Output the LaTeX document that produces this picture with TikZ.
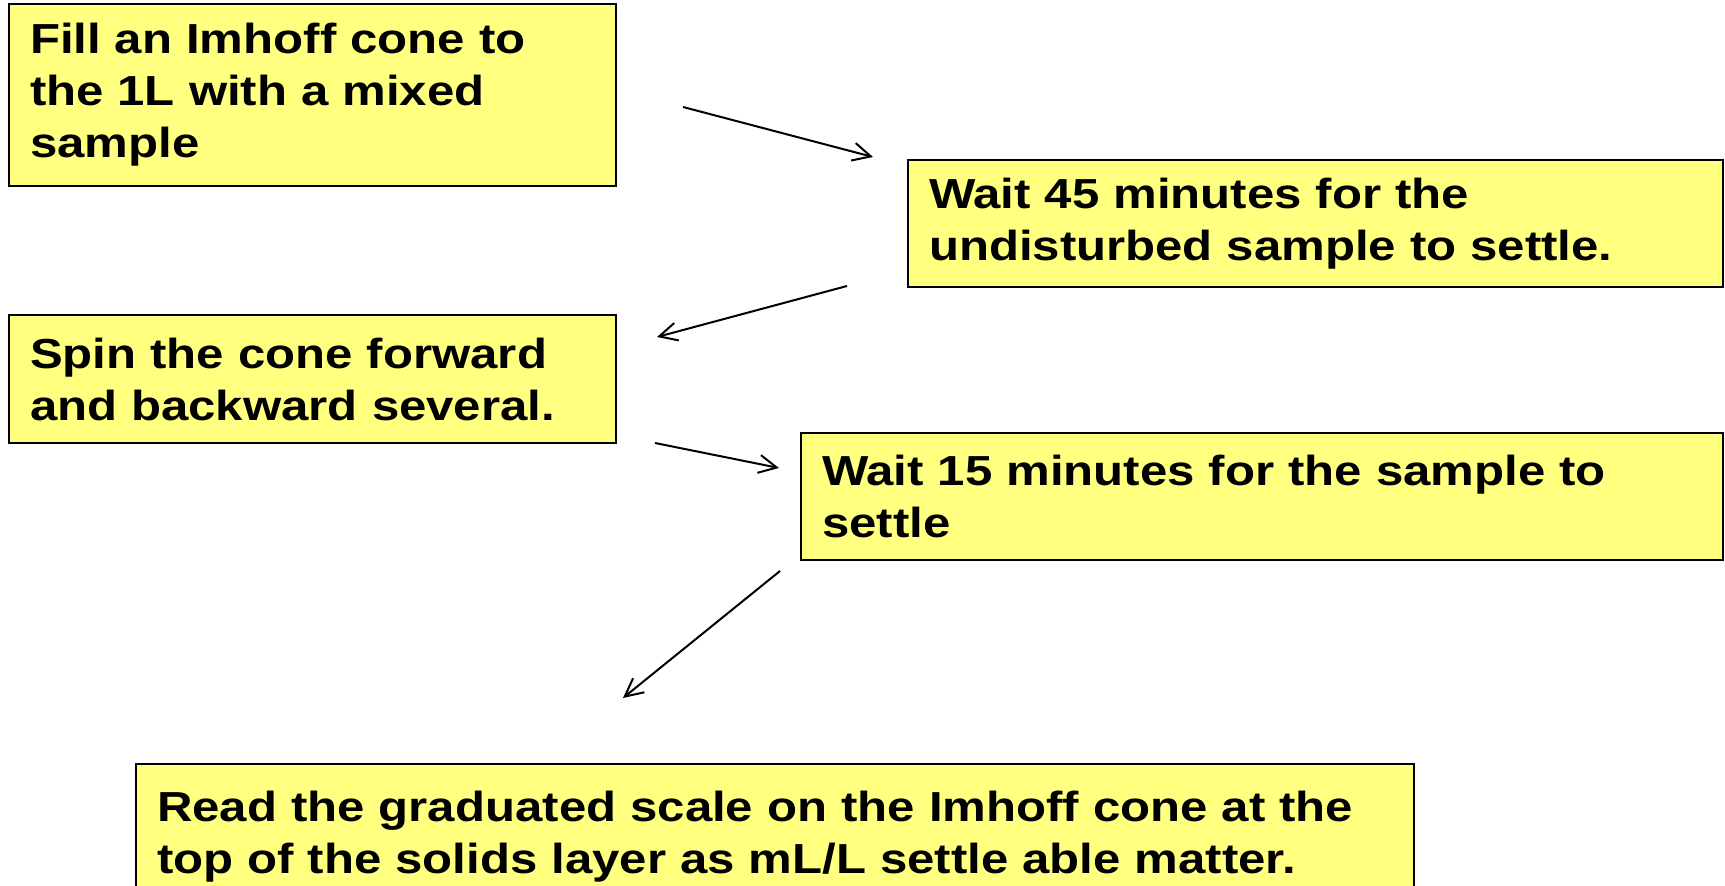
\documentclass[tikz,border=0pt]{standalone}
\usepackage{fontspec}
\setmainfont{Liberation Sans}[FakeStretch=1.17]
\usetikzlibrary{arrows.meta}
\definecolor{boxyellow}{RGB}{255,255,128}
\begin{document}
\begin{tikzpicture}[x=0.5pt,y=-0.5pt,
  box/.style={draw=black, line width=1pt, fill=boxyellow, anchor=north west,
    inner xsep=10.5pt, inner ysep=0pt, align=left,
    font=\fontsize{21pt}{26pt}\selectfont\bfseries},
  flow/.style={-{Straight Barb[length=9pt,width=9pt]}, line width=1pt}]
\clip (0,0) rectangle (1725,886);
\node[box, minimum width=303.5pt, minimum height=91pt, text width=282.5pt] (b1) at (8,3)
  {Fill an Imhoff cone to\\the 1L with a mixed\\sample};
\node[box, minimum width=407.5pt, minimum height=63.5pt, text width=386.5pt] (b2) at (907,159)
  {Wait 45 minutes for the\\undisturbed sample to settle.};
\node[box, minimum width=303.5pt, minimum height=64pt, text width=282.5pt] (b3) at (8,314)
  {Spin the cone forward\\and backward several.};
\node[box, minimum width=461pt, minimum height=63.5pt, text width=440pt] (b4) at (800,432)
  {Wait 15 minutes for the sample to\\settle};
\node[box, minimum width=639pt, minimum height=73pt, text width=618pt] (b5) at (135,763)
  {Read the graduated scale on the Imhoff cone at the\\top of the solids layer as mL/L settle able matter.};
\coordinate (a1s) at (683,107); \coordinate (a1e) at (873,157);
\coordinate (a2s) at (847,286); \coordinate (a2e) at (657,337);
\coordinate (a3s) at (655,443); \coordinate (a3e) at (779,468);
\coordinate (a4s) at (780,571); \coordinate (a4e) at (623,698);
\draw[flow] (a1s) -- (a1e);
\draw[flow] (a2s) -- (a2e);
\draw[flow] (a3s) -- (a3e);
\draw[flow] (a4s) -- (a4e);
\end{tikzpicture}
\end{document}
